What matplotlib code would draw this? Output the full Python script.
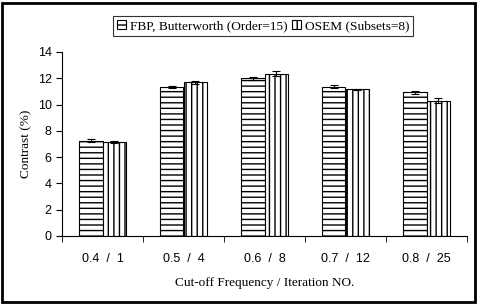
import matplotlib
matplotlib.use("Agg")
import matplotlib.pyplot as plt
import numpy as np
from matplotlib.patches import Rectangle

categories = ["0.4  /  1", "0.5  /  4", "0.6  /  8", "0.7  /  12", "0.8  /  25"]
fbp = [7.25, 11.35, 12.0, 11.35, 10.95]
fbp_err = [0.12, 0.1, 0.1, 0.12, 0.12]
osem = [7.15, 11.7, 12.35, 11.15, 10.3]
osem_err = [0.05, 0.1, 0.2, 0.05, 0.2]
series_names = ["FBP, Butterworth (Order=15)", "OSEM (Subsets=8)"]

plt.rcParams['hatch.linewidth'] = 1.0
fig = plt.figure(figsize=(4.78, 3.04), dpi=100)
ax = fig.add_axes([62/478, 1-236/304, 405/478, 184/304])

x = np.arange(len(categories))
w = 0.284
b1 = ax.bar(x - w/2, fbp, w, color='white', edgecolor='black', hatch='---', linewidth=0.8,
            yerr=fbp_err, capsize=3, error_kw=dict(elinewidth=0.8, capthick=0.8), label=series_names[0])
b2 = ax.bar(x + w/2, osem, w, color='white', edgecolor='black', hatch='|||', linewidth=0.8,
            yerr=osem_err, capsize=3, error_kw=dict(elinewidth=0.8, capthick=0.8), label=series_names[1])

ax.set_xlim(-0.5, len(categories) - 0.5)
ax.set_ylim(0, 14)
ax.set_yticks(range(0, 15, 2))
ax.set_xticks(x)
ax.set_xticklabels(categories, fontsize=9, family='Liberation Sans')
ax.set_xticks(np.arange(-0.5, len(categories), 1), minor=True)
ax.tick_params(axis='x', which='major', length=0, pad=12)
ax.tick_params(axis='x', which='minor', length=4, direction='out')
ax.tick_params(axis='y', length=4, direction='out', labelsize=9)
for lab in ax.get_yticklabels():
    lab.set_family('Liberation Sans')
for s in ['top', 'right']:
    ax.spines[s].set_visible(False)
ax.set_ylabel("Contrast (%)", family='Liberation Serif', fontsize=9.5)
ax.set_xlabel("Cut-off Frequency / Iteration NO.", family='Liberation Serif', fontsize=9.5, labelpad=9)

leg = fig.legend(handles=[b1, b2], loc='upper center', bbox_to_anchor=(263/478, 1-16/304), ncol=2,
                 prop={'family': 'Liberation Serif', 'size': 9.6}, frameon=True, fancybox=False,
                 edgecolor='black', handlelength=0.7, handleheight=0.7, handletextpad=0.3,
                 columnspacing=0.3, borderpad=0.3, borderaxespad=0)
leg.get_frame().set_linewidth(0.8)

fig.patches.append(Rectangle((2/478, 2/304), 473/478, 299/304, transform=fig.transFigure,
                             fill=False, edgecolor='black', linewidth=2))
fig.savefig("out.png", dpi=100)
